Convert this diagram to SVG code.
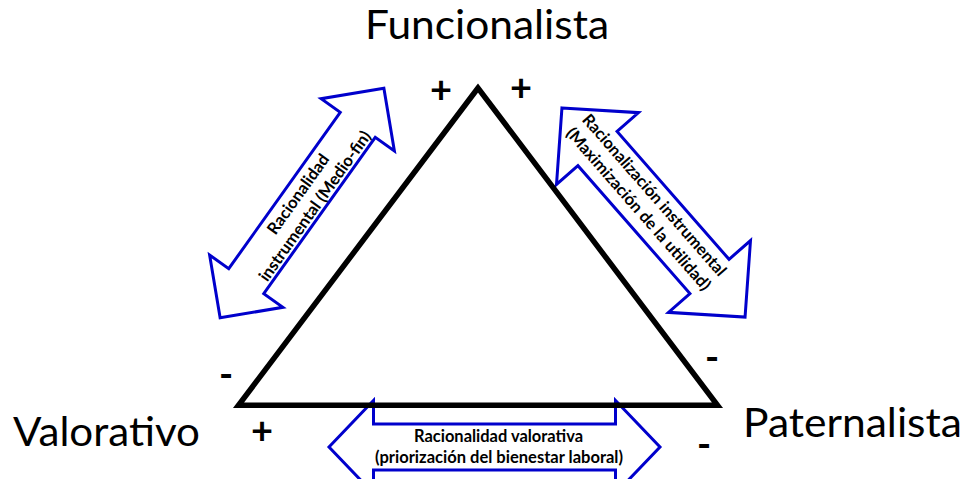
<svg xmlns="http://www.w3.org/2000/svg" width="964" height="479" viewBox="0 0 964 479">
  <style>
    .arrow { fill: #ffffff; stroke: #0000cc; stroke-width: 3; stroke-linejoin: miter; }
    .tri { fill: none; stroke: #000000; stroke-width: 5.5; stroke-linejoin: miter; }
    .title { font-family: "Lato", "Open Sans", "Liberation Sans", sans-serif; font-size: 40px; fill: #000000; }
    .lbl { font-family: "Lato", "Open Sans", "Liberation Sans", sans-serif; font-size: 16.5px; font-weight: bold; fill: #000000; text-anchor: middle; }
    .sign { font-family: "Lato", "Open Sans", "Liberation Sans", sans-serif; font-size: 38px; font-weight: bold; fill: #000000; text-anchor: middle; }
  </style>
  <rect width="964" height="479" fill="#ffffff"/>

  <g id="connectors">
    <g id="arrow-left" transform="translate(302,203) rotate(-54.5)">
      <path class="arrow" d="M-141,0 L-96,-45 L-96,-21.5 L96,-21.5 L96,-45 L141,0 L96,45 L96,21.5 L-96,21.5 L-96,45 Z"/>
      <text class="lbl" x="5" y="-2.6" textLength="94" lengthAdjust="spacingAndGlyphs">Racionalidad</text>
      <text class="lbl" x="5" y="17.9" textLength="180" lengthAdjust="spacingAndGlyphs">instrumental (Medio-fin)</text>
    </g>
    <g id="arrow-right" transform="translate(653.5,212.5) rotate(48.8)">
      <path class="arrow" d="M-139,0 L-85,-54.5 L-85,-26 L85,-26 L85,-54.5 L139,0 L85,54.5 L85,26 L-85,26 L-85,54.5 Z"/>
      <text class="lbl" x="-12.5" y="-6.5" textLength="209" lengthAdjust="spacingAndGlyphs">Racionalización instrumental</text>
      <text class="lbl" x="-12.5" y="14.5" textLength="210" lengthAdjust="spacingAndGlyphs">(Maximización de la utilidad)</text>
    </g>
    <g id="arrow-bottom">
      <path class="arrow" d="M329,447 L373.5,400.5 L373.5,424 L615.5,424 L615.5,400.5 L660,447 L615.5,493.5 L615.5,470 L373.5,470 L373.5,493.5 Z"/>
      <text class="lbl" x="498.5" y="442" textLength="169" lengthAdjust="spacingAndGlyphs">Racionalidad valorativa</text>
      <text class="lbl" x="499" y="463" textLength="248" lengthAdjust="spacingAndGlyphs">(priorización del bienestar laboral)</text>
    </g>
  </g>

  <g id="triangle">
    <polygon class="tri" points="478,88 238.5,405.3 717.5,405.3"/>
  </g>

  <g id="node-funcionalista">
    <text class="title" x="365" y="39" textLength="244" lengthAdjust="spacingAndGlyphs">Funcionalista</text>
  </g>
  <g id="node-valorativo">
    <text class="title" x="13" y="446" textLength="187" lengthAdjust="spacingAndGlyphs">Valorativo</text>
  </g>
  <g id="node-paternalista">
    <text class="title" x="743" y="437" textLength="219" lengthAdjust="spacingAndGlyphs">Paternalista</text>
  </g>

  <g id="signs">
    <text class="sign" x="441" y="102.5">+</text>
    <text class="sign" x="521" y="101">+</text>
    <text class="sign" x="226" y="387.5">-</text>
    <text class="sign" x="262" y="443.5">+</text>
    <text class="sign" x="712" y="370.5">-</text>
    <text class="sign" x="704" y="457.5">-</text>
  </g>
</svg>
